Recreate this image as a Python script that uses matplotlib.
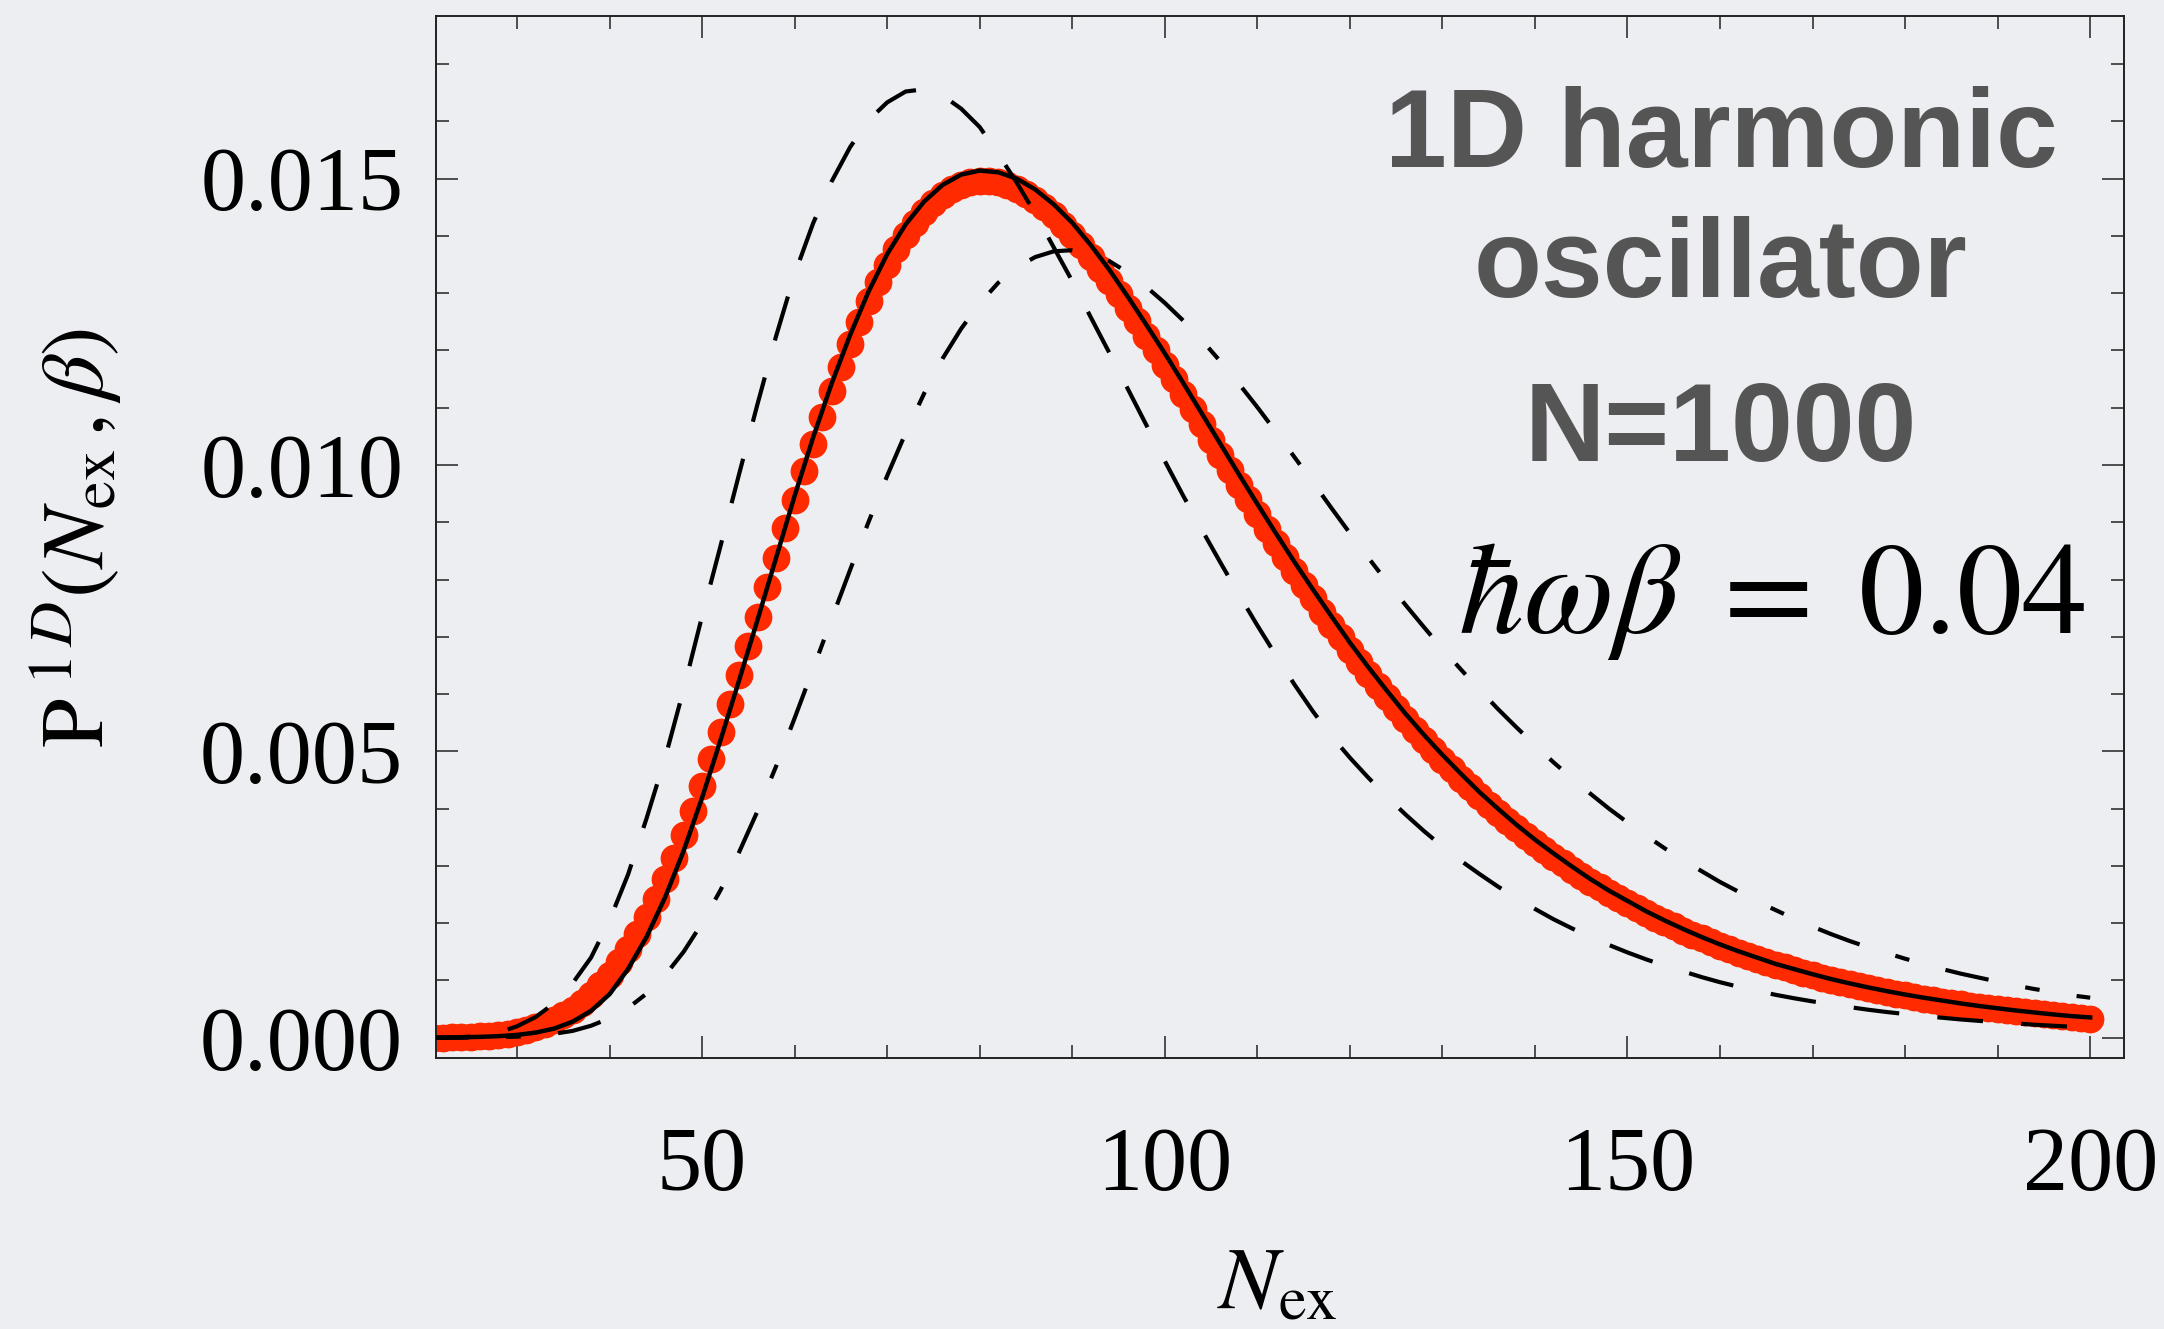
import numpy as np
import matplotlib
matplotlib.use("Agg")
import matplotlib.pyplot as plt
from matplotlib.ticker import MultipleLocator, FormatStrFormatter

plt.rcParams['font.family'] = ['Liberation Serif', 'DejaVu Serif']
plt.rcParams['mathtext.fontset'] = 'stix'

# ---- data (P values in units of 1e-3) ----
# red dots: one per integer N_ex = 20..200
n_dots = list(range(20, 201))
p_dots_e3 = [
    0.0016, 0.0027, 0.0045, 0.0072, 0.0112, 0.0170, 0.0252, 0.0367, 0.0523, 0.0732,
    0.1006, 0.1361, 0.1811, 0.2374, 0.3068, 0.3913, 0.4927, 0.6129, 0.7537, 0.9168,
    1.1037, 1.3156, 1.5536, 1.8183, 2.1101, 2.4288, 2.7742, 3.1453, 3.5412, 3.9603,
    4.4004, 4.8597, 5.3357, 5.8257, 6.3270, 6.8364, 7.3508, 7.8672, 8.3825, 8.8935,
    9.3973, 9.8910, 10.372, 10.837, 11.284, 11.712, 12.117, 12.499, 12.856, 13.186,
    13.490, 13.765, 14.012, 14.230, 14.419, 14.580, 14.711, 14.816, 14.892, 14.942,
    14.966, 14.966, 14.941, 14.894, 14.825, 14.735, 14.626, 14.500, 14.356, 14.197,
    14.023, 13.837, 13.638, 13.429, 13.210, 12.982, 12.747, 12.506, 12.259, 12.007,
    11.751, 11.493, 11.232, 10.970, 10.707, 10.443, 10.181, 9.919, 9.658, 9.400,
    9.143, 8.890, 8.639, 8.392, 8.148, 7.908, 7.672, 7.440, 7.213, 6.990,
    6.772, 6.558, 6.349, 6.145, 5.946, 5.751, 5.562, 5.377, 5.197, 5.022,
    4.852, 4.687, 4.526, 4.370, 4.219, 4.072, 3.929, 3.791, 3.657, 3.527,
    3.401, 3.279, 3.162, 3.048, 2.937, 2.831, 2.728, 2.628, 2.532, 2.439,
    2.349, 2.262, 2.179, 2.098, 2.020, 1.945, 1.872, 1.802, 1.734, 1.669,
    1.607, 1.546, 1.488, 1.432, 1.377, 1.325, 1.275, 1.227, 1.180, 1.135,
    1.092, 1.050, 1.010, 0.9712, 0.9340, 0.8982, 0.8637, 0.8306, 0.7986, 0.7679,
    0.7384, 0.7099, 0.6826, 0.6562, 0.6309, 0.6065, 0.5831, 0.5605, 0.5389, 0.5180,
    0.4979, 0.4786, 0.4601, 0.4422, 0.4251, 0.4086, 0.3927, 0.3775, 0.3628, 0.3487,
    0.3351,
]

# curves sampled every 2 in N_ex = 20..200
n_curve = list(range(20, 201, 2))
p_solid_e3 = [
    0.003, 0.005, 0.009, 0.016, 0.028, 0.05, 0.09, 0.16, 0.28, 0.47,
    0.76, 1.20, 1.76, 2.45, 3.26, 4.19, 5.20, 6.24, 7.30, 8.38,
    9.46, 10.48, 11.42, 12.27, 13.03, 13.68, 14.20, 14.60, 14.89, 15.07,
    15.14, 15.11, 15.00, 14.81, 14.55, 14.23, 13.84, 13.41, 12.94, 12.45,
    11.95, 11.43, 10.90, 10.37, 9.84, 9.32, 8.81, 8.31, 7.83, 7.36,
    6.90, 6.47, 6.06, 5.66, 5.29, 4.94, 4.61, 4.29, 4.00, 3.72,
    3.46, 3.22, 2.99, 2.77, 2.57, 2.39, 2.21, 2.05, 1.90, 1.76,
    1.63, 1.51, 1.40, 1.29, 1.20, 1.11, 1.025, 0.95, 0.88, 0.815,
    0.755, 0.70, 0.65, 0.60, 0.555, 0.515, 0.476, 0.441, 0.408, 0.378,
    0.355,
]
p_dashed_e3 = [
    0.0, 0.002, 0.01, 0.03, 0.09, 0.20, 0.36, 0.60, 0.95, 1.40,
    2.05, 2.85, 3.83, 4.88, 6.08, 7.36, 8.59, 9.84, 11.07, 12.25,
    13.33, 14.22, 14.95, 15.55, 16.02, 16.33, 16.52, 16.56, 16.45, 16.22,
    15.90, 15.43, 14.93, 14.39, 13.80, 13.21, 12.58, 11.96, 11.33, 10.70,
    10.07, 9.46, 8.87, 8.30, 7.74, 7.20, 6.68, 6.17, 5.70, 5.27,
    4.89, 4.54, 4.21, 3.90, 3.61, 3.34, 3.09, 2.86, 2.64, 2.44,
    2.25, 2.07, 1.91, 1.76, 1.62, 1.49, 1.37, 1.26, 1.16, 1.06,
    0.97, 0.89, 0.82, 0.75, 0.69, 0.635, 0.585, 0.535, 0.49, 0.45,
    0.415, 0.38, 0.35, 0.32, 0.295, 0.27, 0.25, 0.228, 0.21, 0.193,
    0.178,
]
p_dashdot_e3 = [
    0.0, 0.0, 0.002, 0.005, 0.01, 0.02, 0.04, 0.07, 0.12, 0.21,
    0.34, 0.52, 0.77, 1.09, 1.50, 2.00, 2.58, 3.24, 3.96, 4.74,
    5.58, 6.44, 7.31, 8.17, 9.01, 9.81, 10.56, 11.25, 11.86, 12.38,
    12.82, 13.18, 13.45, 13.63, 13.73, 13.75, 13.70, 13.56, 13.36, 13.11,
    12.83, 12.52, 12.18, 11.81, 11.42, 11.01, 10.58, 10.14, 9.70, 9.25,
    8.81, 8.38, 7.96, 7.56, 7.17, 6.79, 6.43, 6.08, 5.74, 5.42,
    5.11, 4.81, 4.53, 4.26, 4.00, 3.76, 3.53, 3.31, 3.10, 2.91,
    2.72, 2.55, 2.38, 2.23, 2.08, 1.94, 1.81, 1.69, 1.58, 1.48,
    1.38, 1.29, 1.20, 1.12, 1.05, 0.98, 0.91, 0.85, 0.80, 0.74,
    0.70,
]

bg = '#eceef1'
red = '#ff2a00'

fig = plt.figure(figsize=(21.64, 13.29), dpi=100, facecolor=bg)
ax = fig.add_axes([0.2017, 0.2037, 0.7798, 0.7845])
ax.set_facecolor(bg)

ax.plot(n_dots, np.array(p_dots_e3) * 1e-3, 'o', color=red, ms=20, mew=0, zorder=2)
ax.plot(n_curve, np.array(p_solid_e3) * 1e-3, '-', color='black', lw=3.2, zorder=3)
ax.plot(n_curve, np.array(p_dashed_e3) * 1e-3, color='black', lw=3.0,
        linestyle=(0, (11.0, 9.2)), zorder=4)
ax.plot(n_curve, np.array(p_dashdot_e3) * 1e-3, color='black', lw=3.0,
        linestyle=(0, (10.6, 9.0, 3.5, 9.0)), zorder=4)

ax.set_xlim(21.3, 203.65)
ax.set_ylim(-0.000358, 0.017844)

# ticks: inward, on all four sides
ax.xaxis.set_major_locator(MultipleLocator(50))
ax.xaxis.set_minor_locator(MultipleLocator(10))
ax.yaxis.set_major_locator(MultipleLocator(0.005))
ax.yaxis.set_minor_locator(MultipleLocator(0.001))
ax.yaxis.set_major_formatter(FormatStrFormatter('%.3f'))
ax.xaxis.set_major_formatter(FormatStrFormatter('%d'))
ax.tick_params(which='both', direction='in', top=True, right=True,
               color='#222222', width=1.1)
ax.tick_params(which='major', length=15.8, labelsize=65)
ax.tick_params(which='minor', length=9.4)
ax.tick_params(axis='y', which='major', pad=24)
ax.tick_params(axis='x', which='major', pad=49)
for sp in ax.spines.values():
    sp.set_linewidth(1.4)
    sp.set_color('#222222')

# axis labels
fig.text(76 / 2164, 1 - 538 / 1329, r'$\mathrm{P}^{\;1\,D}(N_{\mathrm{ex}}\,,\beta)$',
         rotation=90, ha='center', va='center', fontsize=64)
fig.text(1277 / 2164, 1 - 1308 / 1329, r'$N_{\mathrm{ex}}$',
         ha='center', va='baseline', fontsize=64)

# annotation block
gray = '#555555'
for txt, yb in [('1D harmonic', 167), ('oscillator', 297), ('N=1000', 461)]:
    fig.text(1721 / 2164, 1 - yb / 1329, txt, ha='center', va='baseline',
             fontsize=80, fontweight='bold', color=gray, family='Liberation Sans')
fig.text(2085 / 2164, 1 - 633 / 1329, r'$\hbar\omega\beta\;=\;0.04$',
         ha='right', va='baseline', fontsize=94)

fig.savefig('out.png', dpi=100, facecolor=bg)
